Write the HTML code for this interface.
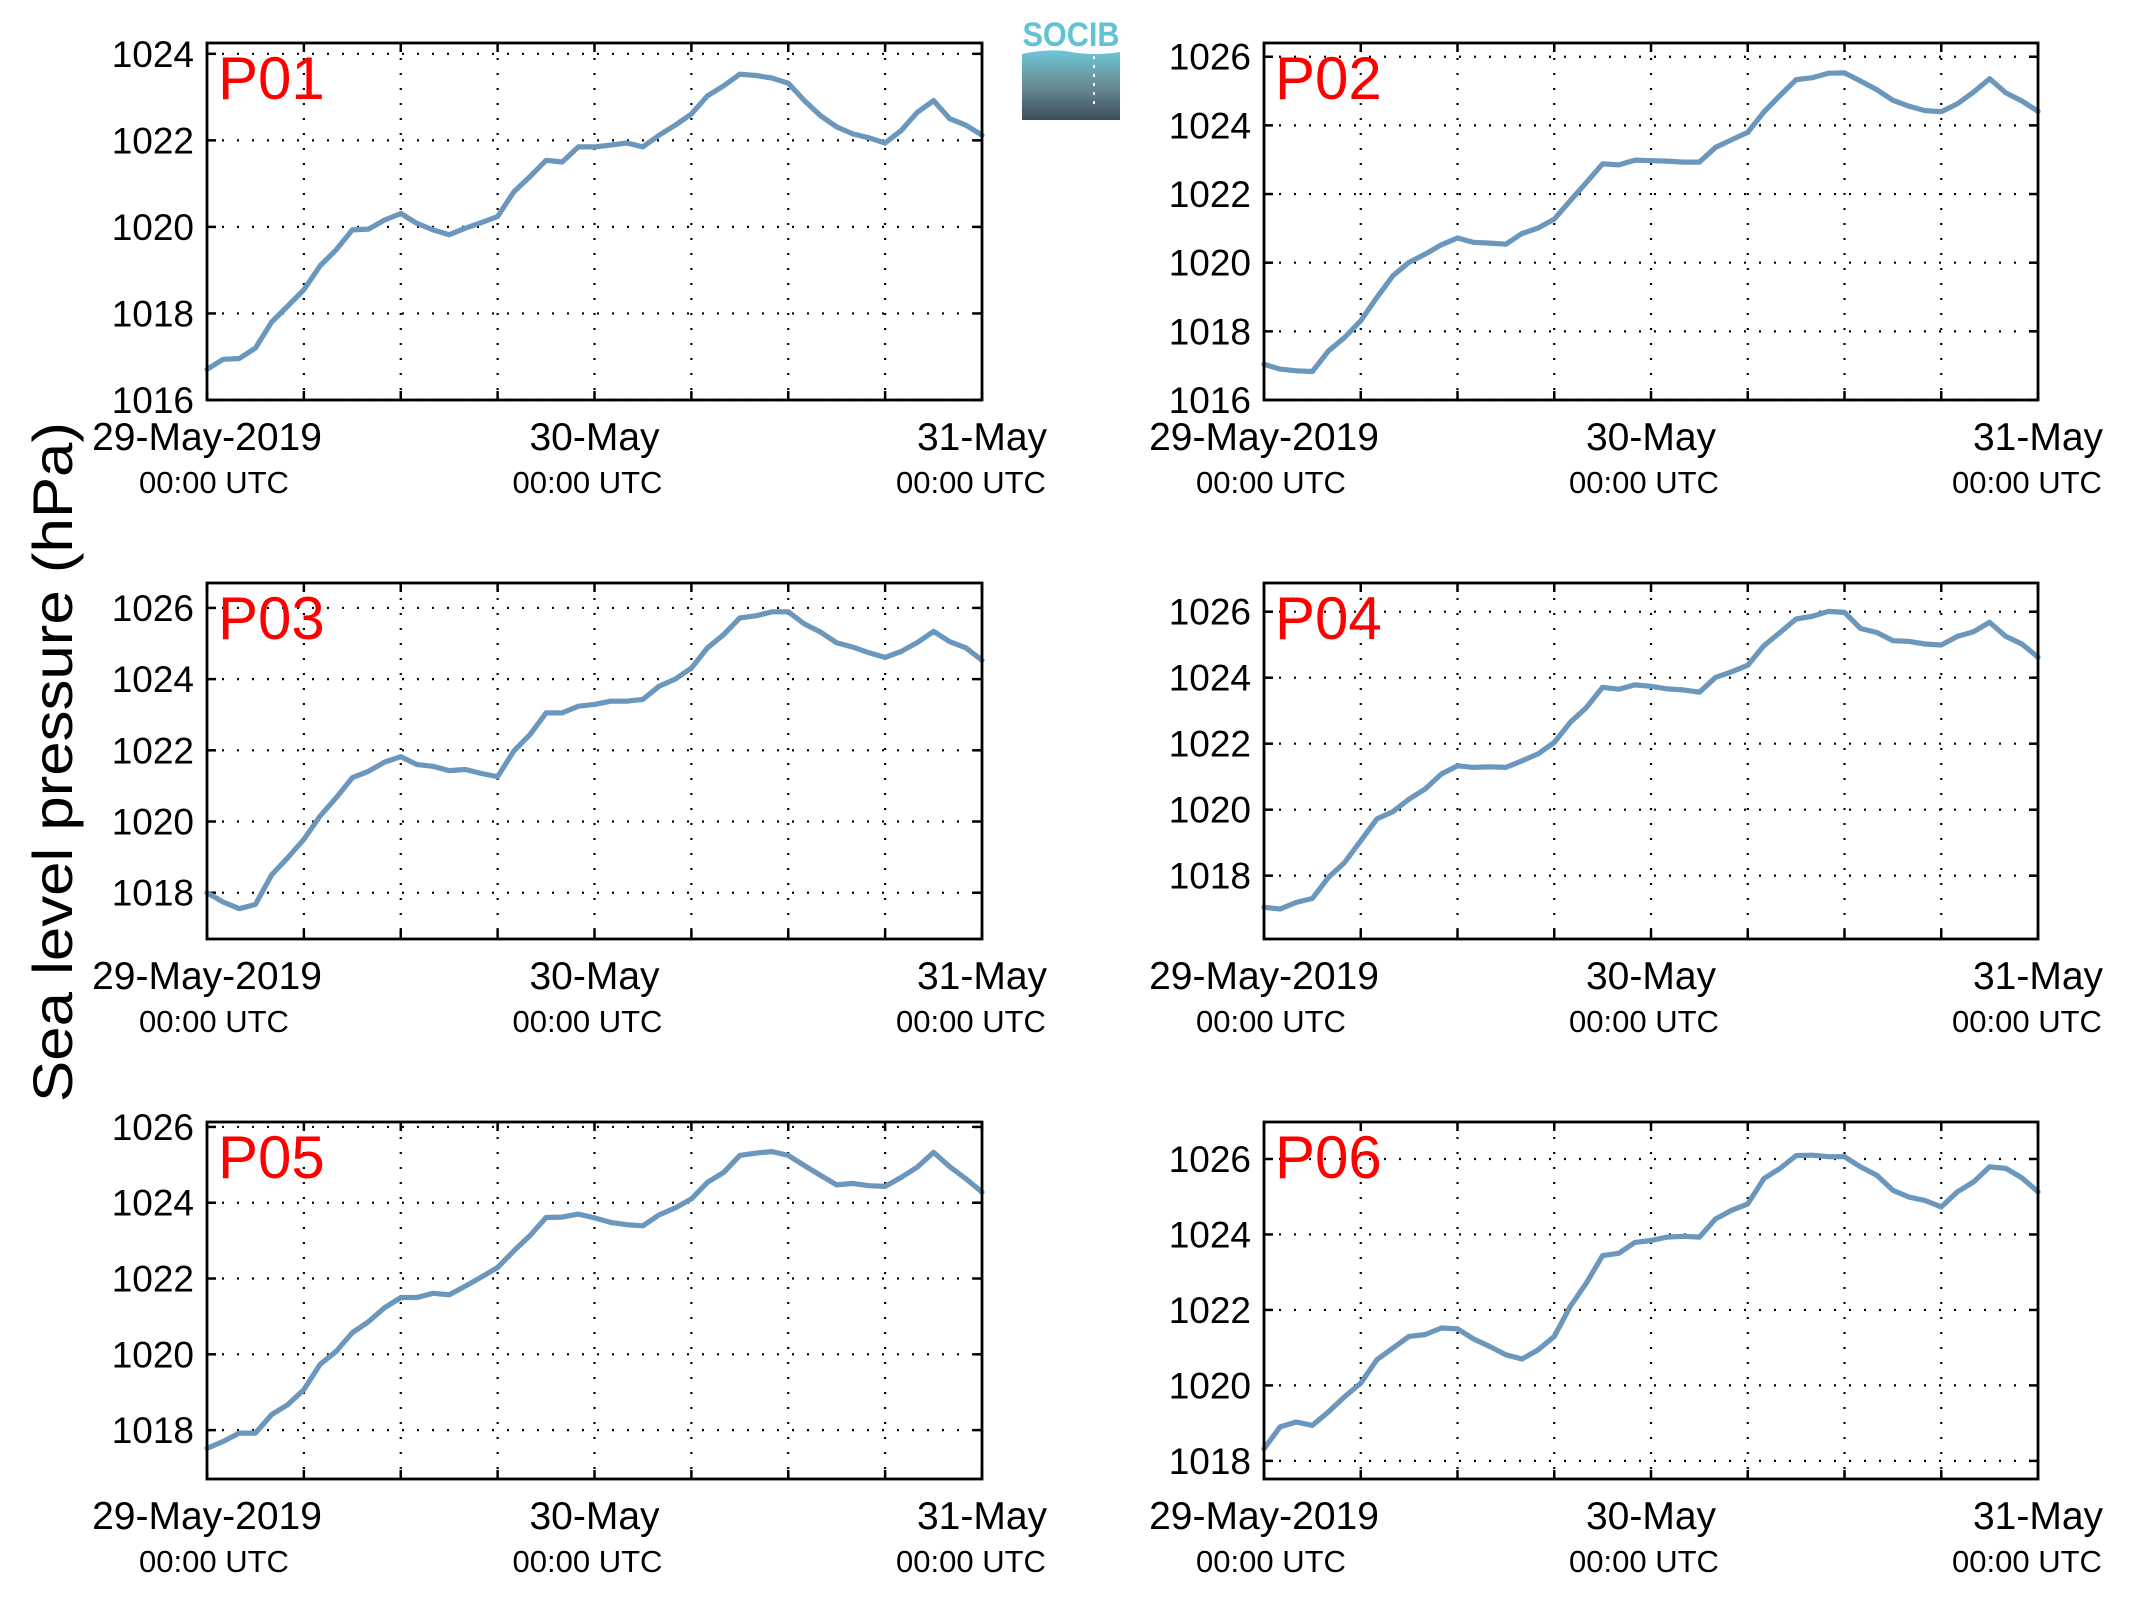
<!DOCTYPE html>
<html><head><meta charset="utf-8"><style>
html,body{margin:0;padding:0;background:#fff;width:2133px;height:1608px;overflow:hidden}
svg text{font-family:"Liberation Sans",Arial,sans-serif}
</style></head><body>
<svg id="fig" width="2133" height="1608" viewBox="0 0 2133 1608" xmlns="http://www.w3.org/2000/svg">
<text x="0" y="0" font-size="56" text-anchor="middle" textLength="680" lengthAdjust="spacingAndGlyphs" transform="translate(72,762) rotate(-90)">Sea level pressure (hPa)</text>
<g>
<defs><linearGradient id="lg" x1="0" y1="0" x2="0" y2="1"><stop offset="0" stop-color="#6cc6d6"/><stop offset="0.5" stop-color="#6a8d97"/><stop offset="1" stop-color="#3b4d5a"/></linearGradient></defs>
<text x="1071" y="46" font-size="34" font-weight="bold" fill="#62c1d3" text-anchor="middle" textLength="97" lengthAdjust="spacingAndGlyphs">SOCIB</text>
<path d="M1022,54 Q1050,48 1071,52 Q1095,56 1120,52 L1120,120 L1022,120 Z" fill="url(#lg)"/>
<line x1="1094" y1="56" x2="1094" y2="106" stroke="#fff" stroke-width="2" stroke-dasharray="3,6"/>
</g>
<g id="panels"></g>
</svg>
<script>
const hours = [0,1,2,3,4,5,6,7,8,9,10,11,12,13,14,15,16,17,18,19,20,21,22,23,24,25,26,27,28,29,30,31,32,33,34,35,36,37,38,39,40,41,42,43,44,45,46,47,48];
const xTickHours = [0,6,12,18,24,30,36,42,48];
const xDateLabels = ["29-May-2019","30-May","31-May"];
const xDateHours = [0,24,48];
const stationNames = ["P01","P02","P03","P04","P05","P06"];
const p01 = [1016.71,1016.94,1016.96,1017.2,1017.8,1018.17,1018.55,1019.1,1019.47,1019.93,1019.95,1020.16,1020.31,1020.08,1019.93,1019.82,1019.97,1020.1,1020.24,1020.81,1021.16,1021.54,1021.5,1021.85,1021.85,1021.89,1021.94,1021.85,1022.12,1022.35,1022.61,1023.03,1023.26,1023.53,1023.5,1023.44,1023.32,1022.92,1022.57,1022.31,1022.15,1022.06,1021.94,1022.23,1022.65,1022.92,1022.5,1022.35,1022.12];
const p02 = [1017.04,1016.9,1016.85,1016.83,1017.43,1017.82,1018.31,1018.99,1019.62,1020.01,1020.25,1020.52,1020.72,1020.59,1020.57,1020.54,1020.85,1021.01,1021.27,1021.81,1022.34,1022.88,1022.85,1022.99,1022.97,1022.96,1022.93,1022.93,1023.36,1023.58,1023.8,1024.39,1024.87,1025.33,1025.39,1025.52,1025.53,1025.29,1025.04,1024.73,1024.56,1024.43,1024.4,1024.63,1024.97,1025.36,1024.95,1024.71,1024.41];
const p03 = [1018.0,1017.74,1017.55,1017.67,1018.5,1018.98,1019.5,1020.15,1020.67,1021.23,1021.41,1021.67,1021.82,1021.6,1021.55,1021.43,1021.46,1021.35,1021.26,1021.98,1022.44,1023.05,1023.05,1023.24,1023.29,1023.38,1023.38,1023.43,1023.8,1024.0,1024.31,1024.88,1025.25,1025.72,1025.78,1025.89,1025.89,1025.55,1025.32,1025.02,1024.9,1024.74,1024.61,1024.78,1025.03,1025.34,1025.05,1024.88,1024.53];
const p04 = [1017.04,1016.99,1017.19,1017.31,1017.95,1018.4,1019.06,1019.72,1019.94,1020.32,1020.63,1021.08,1021.33,1021.28,1021.3,1021.28,1021.48,1021.69,1022.04,1022.65,1023.1,1023.71,1023.65,1023.78,1023.74,1023.66,1023.63,1023.56,1024.01,1024.18,1024.38,1024.97,1025.37,1025.78,1025.86,1026.01,1025.98,1025.49,1025.37,1025.12,1025.1,1025.02,1024.99,1025.25,1025.39,1025.68,1025.25,1025.02,1024.62];
const p05 = [1017.52,1017.7,1017.92,1017.92,1018.41,1018.67,1019.07,1019.73,1020.08,1020.57,1020.86,1021.23,1021.5,1021.5,1021.61,1021.57,1021.8,1022.04,1022.29,1022.73,1023.13,1023.61,1023.62,1023.7,1023.6,1023.48,1023.42,1023.39,1023.68,1023.86,1024.1,1024.54,1024.8,1025.25,1025.31,1025.35,1025.25,1024.98,1024.72,1024.47,1024.51,1024.45,1024.43,1024.67,1024.94,1025.33,1024.95,1024.63,1024.28];
const p06 = [1018.32,1018.9,1019.03,1018.94,1019.3,1019.7,1020.06,1020.68,1020.99,1021.3,1021.35,1021.52,1021.5,1021.23,1021.03,1020.81,1020.7,1020.94,1021.3,1022.1,1022.72,1023.44,1023.5,1023.79,1023.84,1023.93,1023.95,1023.93,1024.41,1024.64,1024.81,1025.48,1025.75,1026.09,1026.1,1026.06,1026.06,1025.79,1025.57,1025.17,1024.99,1024.9,1024.73,1025.13,1025.39,1025.79,1025.75,1025.5,1025.13];
const yMins = [1016,1016,1016.7,1016.08,1016.71,1017.52];
const yMaxs = [1024.25,1026.4,1026.7,1026.87,1026.13,1026.98];
const yTicks = [[1016,1018,1020,1022,1024],[1016,1018,1020,1022,1024,1026],[1018,1020,1022,1024,1026],[1018,1020,1022,1024,1026],[1018,1020,1022,1024,1026],[1018,1020,1022,1024,1026]];
const series = [p01,p02,p03,p04,p05,p06];

const NS = "http://www.w3.org/2000/svg";
const colsX = [[207,982],[1264,2038]];
const rowsY = [[43,400],[583,939],[1122,1479]];
const utcOffsets = [7,-7,-11];
function mk(tag, attrs, parent){const e=document.createElementNS(NS,tag);for(const k in attrs)e.setAttribute(k,attrs[k]);parent.appendChild(e);return e;}
const root = document.getElementById("panels");
for(let p=0;p<6;p++){
  const [x0,x1]=colsX[p%2], [y0,y1]=rowsY[Math.floor(p/2)];
  const xs = h => x0 + (h/48)*(x1-x0);
  const ys = v => y1 - (v-yMins[p])/(yMaxs[p]-yMins[p])*(y1-y0);
  const g = mk("g",{},root);
  
  
  const grid = mk("g",{stroke:"#000","stroke-width":2.2,"stroke-dasharray":"2,13"},g);
  
  
  xTickHours.forEach(h=>{ if(h>0&&h<48) mk("line",{x1:xs(h),x2:xs(h),y1:y0,y2:y1},grid); });
  yTicks[p].forEach(v=>{ mk("line",{x1:x0,x2:x1,y1:ys(v),y2:ys(v)},grid); });
  const tk = mk("g",{stroke:"#000","stroke-width":2.5},g);
  
  
  xTickHours.forEach(h=>{ mk("line",{x1:xs(h),x2:xs(h),y1:y1,y2:y1-9},tk); mk("line",{x1:xs(h),x2:xs(h),y1:y0,y2:y0+9},tk); });
  yTicks[p].forEach(v=>{ mk("line",{x1:x0,x2:x0+9,y1:ys(v),y2:ys(v)},tk); mk("line",{x1:x1,x2:x1-9,y1:ys(v),y2:ys(v)},tk); });
  const d = hours.map((h,i)=>(i?"L":"M")+xs(h).toFixed(1)+","+ys(series[p][i]).toFixed(1)).join(" ");
  const ln = mk("path",{d:d,fill:"none",stroke:"#6b97bd","stroke-width":5.2,"stroke-linejoin":"round","stroke-linecap":"round"},g);
  
  
  const fr = mk("rect",{x:x0,y:y0,width:x1-x0,height:y1-y0,fill:"none",stroke:"#000","stroke-width":2.8},g);
  
  
  yTicks[p].forEach(v=>{
    const t = mk("text",{x:x0-13,y:ys(v)+13,"font-size":37,"text-anchor":"end"},g);
    
    
    t.textContent = v;
  });
  xDateHours.forEach((h,i)=>{
    const t = mk("text",{x:xs(h),y:y1+50,"font-size":39,"text-anchor":"middle"},g);
    
    
    t.textContent = xDateLabels[i];
    const u = mk("text",{x:xs(h)+utcOffsets[i],y:y1+93,"font-size":31,"text-anchor":"middle"},g);
    
    
    u.textContent = "00:00 UTC";
  });
  const st = mk("text",{x:x0+11,y:y0+56,"font-size":60,fill:"#ff0000"},g);
  
  
  st.textContent = stationNames[p];
}
</script>
</body></html>
